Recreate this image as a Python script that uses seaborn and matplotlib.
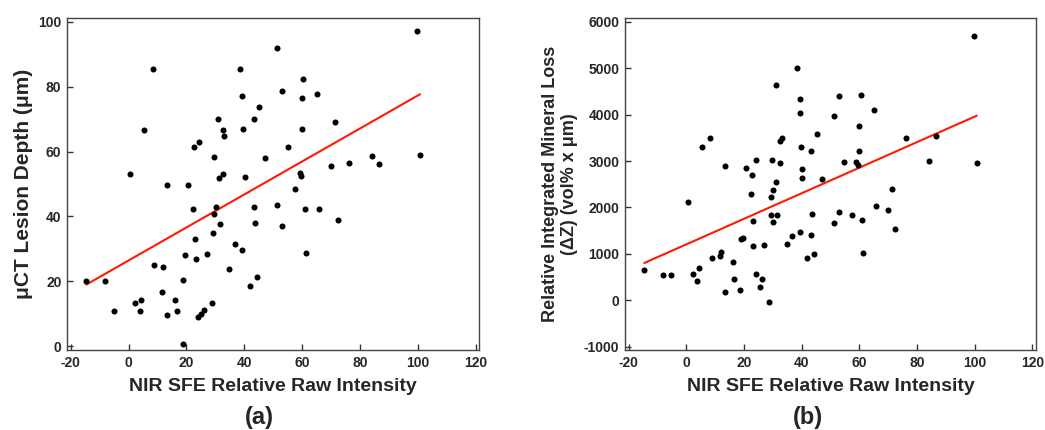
import numpy as np
import pandas as pd
import seaborn as sns
import matplotlib
matplotlib.use("Agg")
import matplotlib.pyplot as plt

# (a) uCT lesion depth vs NIR SFE intensity
depth_x = [0.5, 8.3, 5.5, 22.6, 24.3, 29.5, 31.0, 32.6, 33.0, 31.3, 32.6, 38.5, 39.3,
           39.7, 40.3, 43.4, 45.2, 47.1, 51.2, 53.2, 55.3, 99.7, 60.4, 59.9, 65.3, 59.9,
           71.4, 84.3, 100.8, 70.0, 76.1, 86.5, 59.2, 59.8, 57.5, 60.9, 65.7, 72.6, 61.2,
           13.4, 20.5, 22.3, 30.1, 29.7, 31.6, 29.3, 43.4, 43.7, 51.2, 53.2, 23.1, 36.9,
           39.3, 19.5, 23.2, 27.1, 8.9, 12.0, 34.9, -14.6, -8.0, 18.9, 44.5, 42.0, 11.7,
           2.2, 4.4, 16.2, -5.1, 3.8, 13.4, 16.7, 28.7, 24.1, 25.2, 26.2, 18.7]
depth_y = [53.1, 85.5, 66.6, 61.5, 63.0, 58.3, 70.1, 66.6, 64.8, 51.9, 53.1, 85.6, 77.1,
           66.9, 52.1, 70.1, 73.9, 58.1, 92.1, 78.8, 61.4, 97.3, 82.3, 76.5, 77.8, 66.9,
           69.0, 58.7, 59.0, 55.6, 56.6, 56.1, 53.3, 52.5, 48.6, 42.3, 42.3, 38.8, 28.8,
           49.6, 49.8, 42.3, 43.0, 40.8, 37.6, 34.8, 42.8, 37.9, 43.5, 37.0, 33.0, 31.5,
           29.5, 28.0, 26.9, 28.3, 25.0, 24.3, 23.8, 20.1, 20.1, 20.3, 21.3, 18.7, 16.8,
           13.3, 14.3, 14.3, 10.8, 10.8, 9.6, 10.8, 13.3, 8.9, 10.0, 11.2, 0.6]
depth_fit_x = [-14.6, 100.8]
depth_fit_y = [19.0, 77.7]

# (b) integrated mineral loss vs NIR SFE intensity
loss_x = [38.5, 31.0, 39.4, 39.4, 52.8, 51.1, 45.3, 8.3, 5.5, 32.6, 33.2, 39.7, 43.3,
          13.4, 20.7, 24.2, 29.6, 32.6, 22.6, 40.1, 22.4, 29.5, 30.1, 31.2, 40.1, 47.0,
          0.5, 23.1, 29.2, 29.9, 31.6, 43.6, 52.9, 51.1, 19.0, 19.8, 23.1, 27.0, 34.8,
          36.8, 39.3, 43.3, 41.9, 44.4, 8.9, 11.8, 12.0, 16.2, -14.6, -8.0, -5.2, 2.2,
          4.4, 3.8, 16.6, 24.2, 26.2, 25.4, 18.7, 13.3, 28.7, 99.6, 60.4, 65.2, 59.9,
          76.1, 86.5, 59.9, 54.8, 58.7, 59.4, 84.2, 100.7, 71.3, 65.7, 69.9, 57.5, 61.0,
          72.4, 61.1]
loss_y = [5006, 4640, 4338, 4043, 4410, 3979, 3591, 3504, 3297, 3440, 3490, 3297, 3224,
          2894, 2858, 3017, 3030, 2966, 2700, 2823, 2297, 2226, 2371, 2543, 2625, 2614,
          2125, 1709, 1832, 1688, 1832, 1866, 1910, 1659, 1320, 1345, 1177, 1185, 1220,
          1392, 1465, 1414, 918, 991, 918, 955, 1041, 819, 660, 539, 539, 573,
          696, 416, 466, 573, 452, 293, 222, 172, -37, 5690, 4425, 4101, 3763,
          3491, 3541, 3211, 2981, 2981, 2909, 3002, 2953, 2392, 2026, 1953, 1832, 1724,
          1537, 1013]
loss_fit_x = [-14.6, 100.7]
loss_fit_y = [804, 3978]

x_ticks = [-20, 0, 20, 40, 60, 80, 100, 120]

sns.set_style("white")
plt.rcParams['font.family'] = ['Liberation Sans', 'DejaVu Sans']
plt.rcParams['font.weight'] = 'bold'
plt.rcParams['axes.unicode_minus'] = False

fig = plt.figure(figsize=(10.45, 4.3), dpi=100)
ax1 = fig.add_axes([0.0641, 0.186, 0.3943, 0.772])
ax2 = fig.add_axes([0.598, 0.186, 0.3933, 0.772])

panels = [
    (ax1, depth_x, depth_y, depth_fit_x, depth_fit_y, "μCT Lesion Depth (μm)", 15,
     (-1.2, 101.2), [0, 20, 40, 60, 80, 100], "(a)", 0.248),
    (ax2, loss_x, loss_y, loss_fit_x, loss_fit_y,
     "Relative Integrated Mineral Loss\n(ΔZ) (vol% x μm)", 13,
     (-1070, 6080), [-1000, 0, 1000, 2000, 3000, 4000, 5000, 6000], "(b)", 0.773),
]

for ax, x, y, fx, fy, ylab, ysize, ylim, yticks, tag, tag_x in panels:
    sns.lineplot(x=fx, y=fy, ax=ax, color="#ff1a00", linewidth=1.5)
    sns.scatterplot(x=x, y=y, ax=ax, color="black", s=19, edgecolor="black",
                    linewidth=0, zorder=3)
    ax.set_xlim(-21.3, 121.2)
    ax.set_ylim(*ylim)
    ax.set_xticks(x_ticks)
    ax.set_yticks(yticks)
    ax.tick_params(direction="in", length=4, width=1, color="#333333",
                   labelsize=10, pad=4, left=True, bottom=True)
    for lab in ax.get_xticklabels() + ax.get_yticklabels():
        lab.set_fontweight("bold")
    for sp in ax.spines.values():
        sp.set_color("#444444")
        sp.set_linewidth(1.0)
    ax.set_xlabel("NIR SFE Relative Raw Intensity", fontsize=14, fontweight="bold",
                  labelpad=6)
    ax.set_ylabel(ylab, fontsize=ysize, fontweight="bold", labelpad=4)
    fig.text(tag_x, 0.03, tag, fontsize=17, fontweight="bold", ha="center",
             va="center")

fig.savefig("out.png", dpi=100)
